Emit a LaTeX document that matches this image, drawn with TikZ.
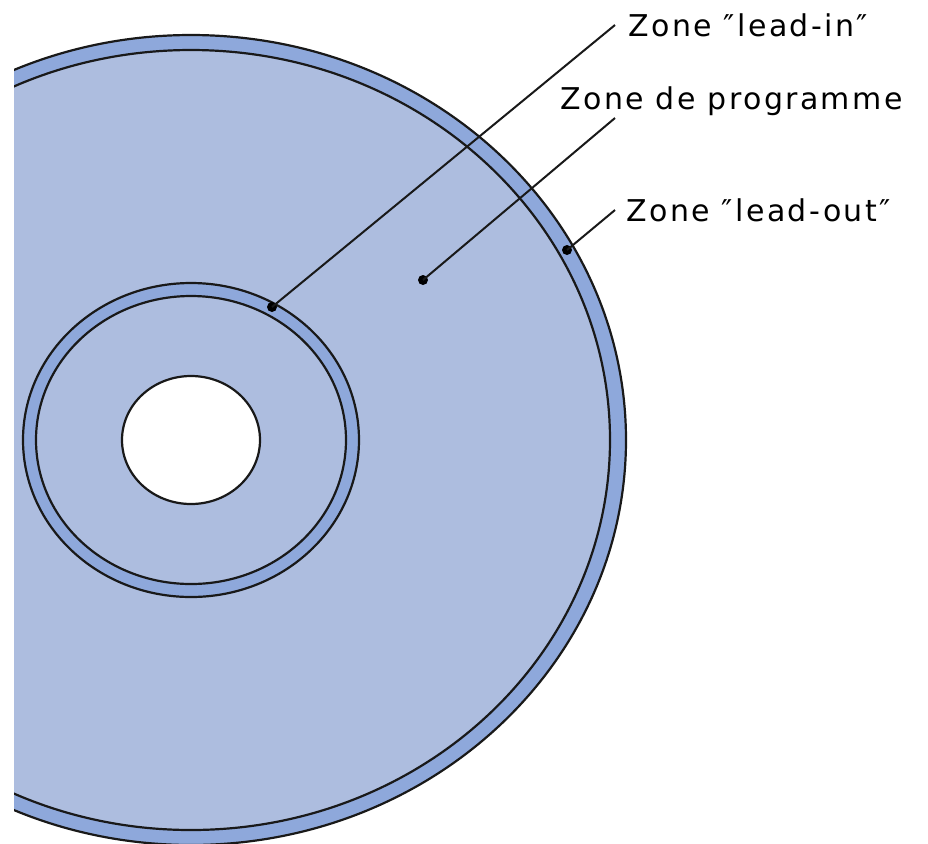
\documentclass[tikz,border=0pt]{standalone}
\usepackage{fontspec}
\setmainfont{DejaVu Sans}[LetterSpace=8]
\definecolor{discfill}{RGB}{173,189,223}
\definecolor{ringfill}{RGB}{142,168,219}
\definecolor{edge}{RGB}{25,25,25}
\newcommand{\sq}{\symbol{"2033}}
\begin{document}
\begin{tikzpicture}[x=0.5pt,y=-0.5pt,
  rim/.style={draw=edge,line width=1.1pt},
  leader/.style={draw=edge,line width=1pt},
  dotmark/.style={circle,fill=black,inner sep=0pt,minimum size=5pt},
  label/.style={anchor=west,inner sep=0pt,font=\fontsize{15}{18}\selectfont,text height=11pt,text depth=0pt}]
\useasboundingbox (0,0) rectangle (928,843);
\begin{scope}
\clip (14,0) rectangle (928,843);
\coordinate (c) at (191,440);
\fill[ringfill,rim] (c) ellipse [x radius=217.5pt, y radius=202.5pt];
\fill[discfill,rim] (c) ellipse [x radius=209.5pt, y radius=195pt];
\fill[ringfill,rim] (c) ellipse [x radius=84pt, y radius=78.5pt];
\fill[discfill,rim] (c) ellipse [x radius=77.5pt, y radius=72pt];
\fill[white,rim] (c) ellipse [x radius=34.5pt, y radius=32pt];
\end{scope}
\node[dotmark] (d1) at (272,307) {};
\node[dotmark] (d2) at (423,280) {};
\node[dotmark] (d3) at (567,250) {};
\coordinate (e1) at (615,25);
\coordinate (e2) at (615,118);
\coordinate (e3) at (615,210);
\node[label] (l1) at (628,25) {Zone \sq lead-in\sq};
\node[label] (l2) at (560,98) {Zone de programme};
\node[label] (l3) at (626,210) {Zone \sq lead-out\sq};
\draw[leader] (d1.center) -- (e1);
\draw[leader] (d2.center) -- (e2);
\draw[leader] (d3.center) -- (e3);
\end{tikzpicture}
\end{document}
